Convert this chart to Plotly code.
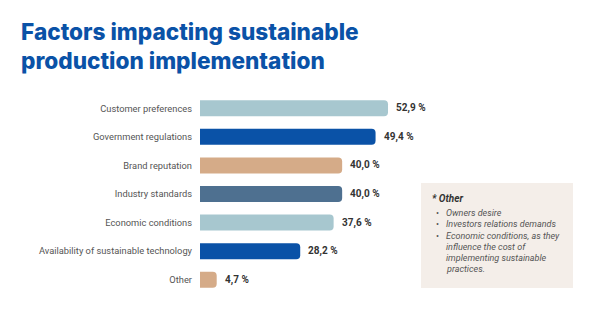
import plotly.graph_objects as go

categories = ["Customer preferences", "Government regulations", "Brand reputation",
              "Industry standards", "Economic conditions",
              "Availability of sustainable technology", "Other"]
values = [52.9, 49.4, 40.0, 40.0, 37.6, 28.2, 4.7]
labels = ["52,9 %", "49,4 %", "40,0 %", "40,0 %", "37,6 %", "28,2 %", "4,7 %"]
colors = ["#a7c7cf", "#0a52a7", "#d5ab88", "#4e7090", "#a7c7cf", "#0a52a7", "#d5ab88"]

title_lines = ["Factors impacting sustainable", "production implementation"]
note_title = "* Other"
note_items = [["Owners desire"], ["Investors relations demands"],
              ["Economic conditions, as they", "influence the cost of",
               "implementing sustainable", "practices."]]

fig = go.Figure()
fig.add_trace(go.Bar(
    x=values, y=categories, orientation="h",
    marker=dict(color=colors, cornerradius=4, line=dict(width=0)),
    hoverinfo="skip",
))

for c, v, t in zip(categories, values, labels):
    fig.add_annotation(x=v, y=c, text=f"<b>{t}</b>", showarrow=False,
                       xanchor="left", xshift=6,
                       font=dict(family="Roboto", size=10, color="#333333"))

W, H = 600, 328
L, R, T, B = 200, 0, 94, 34
pw, ph = W - L - R, H - T - B

def px(x):
    return (x - L) / pw

def py(y):
    return (H - B - y) / ph

# title
fig.add_annotation(xref="paper", yref="paper", x=px(20), y=py(46),
                   text="<br>".join(title_lines), showarrow=False, align="left",
                   xanchor="left", yanchor="middle", borderpad=0,
                   font=dict(family="Inter", size=22.6, color="#0a52a7", weight=800))

fig.add_shape(type="rect", xref="paper", yref="paper",
              x0=px(421), x1=px(573), y0=py(288), y1=py(183),
              fillcolor="#f4eee9", line=dict(width=0), layer="below")

fig.add_annotation(xref="paper", yref="paper", x=px(430), y=py(198),
                   text=f"<b><i>{note_title}</i></b>", showarrow=False,
                   xanchor="left", yanchor="middle",
                   font=dict(family="Roboto", size=10, color="#333333"))

row = 0
for item in note_items:
    for j, line in enumerate(item):
        yy = py(213 + 11.25 * row)
        if j == 0:
            fig.add_annotation(xref="paper", yref="paper", x=px(435), y=yy,
                               text="•", showarrow=False, xanchor="left", yanchor="middle",
                               borderpad=0,
                               font=dict(family="Roboto", size=9, color="#555555"))
        fig.add_annotation(xref="paper", yref="paper", x=px(445), y=yy,
                           text=f"<i>{line}</i>", showarrow=False, xanchor="left",
                           yanchor="middle", borderpad=0,
                           font=dict(family="Roboto", size=9, color="#555555"))
        row += 1

fig.update_layout(
    width=W, height=H,
    margin=dict(l=L, r=R, t=T, b=B),
    paper_bgcolor="white", plot_bgcolor="white",
    bargap=0.44,
    showlegend=False,
    xaxis=dict(range=[0, 400 / 3.554], visible=False, fixedrange=True),
    yaxis=dict(autorange="reversed", showgrid=False, zeroline=False, showline=False,
               ticks="", ticklabelstandoff=7,
               tickfont=dict(family="Roboto", size=9.3, color="#555555")),
)

fig.write_html("out.html")
